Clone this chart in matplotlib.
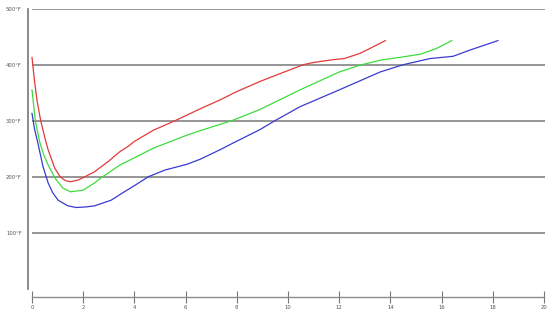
import numpy as np
import matplotlib
matplotlib.use("Agg")
import matplotlib.pyplot as plt

# values (x, temperature in °F)
red_x = [0, 0.1, 0.2, 0.34, 0.5, 0.63, 0.89, 1.1, 1.3, 1.5, 1.8, 2.07, 2.45, 3.0,
         3.44, 3.75, 4.0, 4.74, 5.59, 6.56, 7.34, 8.0, 8.9, 9.8, 10.6, 11.0,
         11.76, 12.2, 12.8, 13.2, 13.8]
red_y = [413, 370, 335, 300, 270, 248, 215, 200, 193, 191, 194, 200, 209, 228,
         245, 254, 263, 283, 300, 321, 337, 352, 370, 386, 400, 404,
         409, 411, 420, 429, 443]

green_x = [0, 0.13, 0.3, 0.45, 0.63, 0.89, 1.2, 1.5, 2.0, 2.45, 2.7, 3.44, 3.75,
           4.74, 6.04, 6.56, 7.8, 8.9, 10.47, 12.0, 12.8, 13.6, 14.5, 15.2,
           15.8, 16.4]
green_y = [355, 300, 262, 240, 221, 198, 180, 173, 176, 189, 198, 221, 228,
           251, 274, 282, 300, 320, 355, 387, 399, 408, 414, 419,
           429, 443]

blue_x = [0, 0.1, 0.23, 0.43, 0.63, 0.8, 1.02, 1.4, 1.73, 2.1, 2.45, 3.09, 3.5,
          4.0, 4.55, 5.2, 6.04, 6.56, 7.34, 7.85, 8.9, 9.49, 10.47, 12.0, 13.6,
          14.5, 15.55, 16.45, 17.1, 18.2]
blue_y = [313, 285, 260, 218, 189, 172, 158, 148, 145, 146, 148, 158, 170,
          184, 200, 212, 222, 231, 248, 260, 284, 300, 325, 355, 387,
          400, 411, 415, 426, 443]

y_ticks = [100, 200, 300, 400, 500]
y_labels = ["100°F", "200°F", "300°F", "400°F", "500°F"]
x_ticks = list(range(0, 21, 2))

fig = plt.figure(figsize=(5.6, 3.15), dpi=100)
ax = fig.add_axes([28 / 560, 1 - 288.7 / 315, (545 - 28) / 560, 280 / 315])
ax.set_xlim(-4 / 25.6, 20 + 1 / 25.6)
ax.set_ylim(0, 500)

ax.hlines(y_ticks, 0, 20 + 1 / 25.6, color="#8c8c8c", lw=1.3, zorder=1)

ax.plot(red_x, red_y, color="#e23a3a", lw=0.9, zorder=3)
ax.plot(green_x, green_y, color="#3ddc3d", lw=0.9, zorder=3)
ax.plot(blue_x, blue_y, color="#3a3ad0", lw=0.9, zorder=3)

for s in ["top", "right"]:
    ax.spines[s].set_visible(False)
ax.spines["left"].set_color("#777777")
ax.spines["left"].set_linewidth(1.2)
ax.spines["bottom"].set_position(("outward", 6))
ax.spines["bottom"].set_bounds(0, 20)
ax.spines["bottom"].set_color("#8c8c8c")
ax.spines["bottom"].set_linewidth(1.0)

ax.set_yticks(y_ticks)
ax.set_yticklabels(y_labels, fontsize=3.8, color="#555555")
ax.tick_params(axis="y", length=0, pad=4.5)
ax.set_xticks(x_ticks)
ax.set_xticklabels([str(t) for t in x_ticks], fontsize=3.8, color="#555555")
ax.tick_params(axis="x", direction="inout", length=9, width=0.8,
               color="#777777", pad=1.5)

fig.savefig("out.png", dpi=100)
